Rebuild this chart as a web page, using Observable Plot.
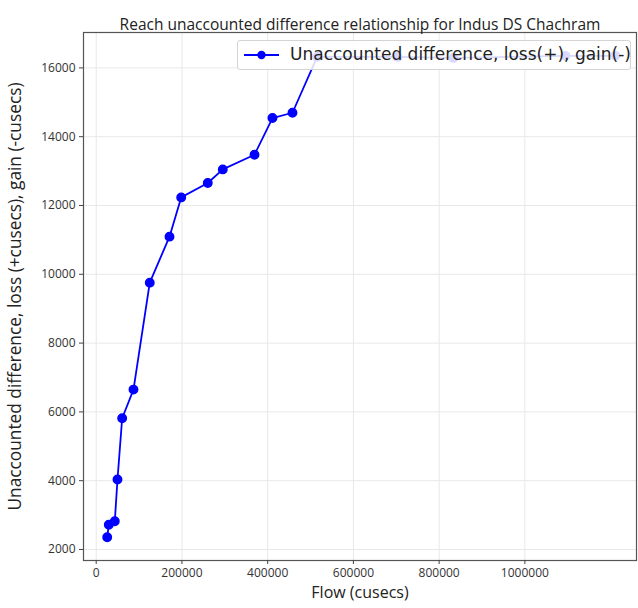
<!DOCTYPE html>
<html>
<head>
<meta charset="utf-8">
<script src="https://cdn.jsdelivr.net/npm/d3@7"></script>
<script src="https://cdn.jsdelivr.net/npm/@observablehq/plot@0.6"></script>
<style>
  body { margin: 0; background: #fff; }
  #wrap { position: relative; width: 638px; height: 608px; }
  #legend {
    position: absolute; left: 237px; top: 40px; width: 394px; height: 30px;
    background: rgba(255,255,255,0.85); border: 1px solid #d4d4d4; border-radius: 3px;
    box-sizing: border-box; font-family: "DejaVu Sans", sans-serif; font-size: 17px; color: #222;
  }
  #legend svg { position: absolute; left: 5px; top: 7px; }
  #legend span { position: absolute; left: 52px; top: 3px; white-space: nowrap; }
</style>
</head>
<body>
<div id="wrap"></div>
<script>
const titleText = "Reach unaccounted difference relationship for Indus DS Chachram";
const xLabel = "Flow (cusecs)";
const yLabel = "Unaccounted difference, loss (+cusecs), gain (-cusecs)";
const legendLabel = "Unaccounted difference, loss(+), gain(-)";

const flow = [25700, 29400, 43400, 49700, 60600, 87000, 125000, 171000, 198300, 260300, 295300, 369300, 411200, 457900, 515500, 702800, 833400, 1094700, 1211300];
const diff = [2357, 2718, 2822, 4034, 5815, 6648, 9757, 11094, 12235, 12654, 13049, 13476, 14542, 14696, 16323, 16320, 16290, 16350, 16350];

const xTicks = [0, 200000, 400000, 600000, 800000, 1000000];
const yTicks = [2000, 4000, 6000, 8000, 10000, 12000, 14000, 16000];

const data = flow.map((f, i) => ({flow: f, diff: diff[i]}));
const blue = "#0000ff";
const font = "'Open Sans', sans-serif";

const chart = Plot.plot({
  width: 638,
  height: 608,
  marginLeft: 83,
  marginRight: 2,
  marginTop: 32,
  marginBottom: 48,
  style: {fontFamily: font, fontSize: "12px", color: "#333", background: "#fff"},
  x: {domain: [-29600, 1260400]},
  y: {domain: [1680, 17029]},
  marks: [
    Plot.gridX(xTicks, {stroke: "#e8e8e8", strokeOpacity: 1}),
    Plot.gridY(yTicks, {stroke: "#e8e8e8", strokeOpacity: 1}),
    Plot.frame({stroke: "#555", strokeWidth: 1.2}),
    Plot.axisX(xTicks, {tickSize: 4, tickPadding: 4, tickFormat: d => String(d), label: null, fontSize: 12, stroke: "#444"}),
    Plot.axisY(yTicks, {tickSize: 4, tickPadding: 4, tickFormat: d => String(d), label: null, fontSize: 12, stroke: "#444"}),
    Plot.line(data, {x: "flow", y: "diff", stroke: blue, strokeWidth: 1.8}),
    Plot.dot(data, {x: "flow", y: "diff", fill: blue, stroke: blue, r: 4.2}),
    Plot.text([titleText], {frameAnchor: "top", dy: -14, fontSize: 15.5, fill: "#222"}),
    Plot.text([xLabel], {frameAnchor: "bottom", dy: 37, fontSize: 16, fill: "#222"}),
    Plot.text([yLabel], {frameAnchor: "left", textAnchor: "middle", rotate: -90, dx: -68, fontSize: 17.3, fill: "#222"})
  ]
});

const wrap = document.getElementById("wrap");
wrap.appendChild(chart);

const legend = document.createElement("div");
legend.id = "legend";
legend.innerHTML = `<svg width="40" height="14"><line x1="1" y1="7" x2="36" y2="7" stroke="${blue}" stroke-width="1.8"/><circle cx="18.5" cy="7" r="4.2" fill="${blue}"/></svg><span>${legendLabel}</span>`;
wrap.appendChild(legend);
</script>
</body>
</html>
